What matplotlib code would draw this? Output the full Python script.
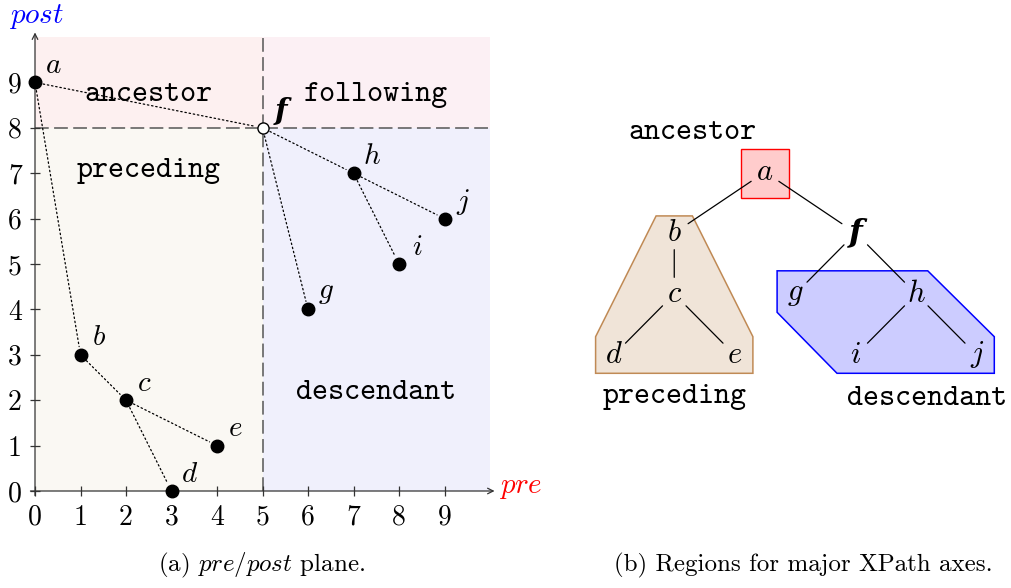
import matplotlib.pyplot as plt
from matplotlib.patches import Rectangle, Polygon

plt.rcParams['mathtext.fontset'] = 'cm'
plt.rcParams['font.family'] = 'cmr10'
plt.rcParams['axes.formatter.use_mathtext'] = True

# Nodos del documento: pre/post y padre
nodes = ['a', 'b', 'c', 'd', 'e', 'f', 'g', 'h', 'i', 'j']
pre = [0, 1, 2, 3, 4, 5, 6, 7, 8, 9]
post = [9, 3, 2, 0, 1, 8, 4, 7, 5, 6]
parent = [None, 'a', 'b', 'c', 'c', 'a', 'f', 'f', 'h', 'h']
context = 'f'

# Disposicion del arbol (posicion horizontal, profundidad)
tree_x = [0, -1.5, -1.5, -2.5, -0.5, 1.5, 0.5, 2.5, 1.5, 3.5]
tree_depth = [0, 1, 2, 3, 3, 1, 2, 2, 3, 3]

preceding_nodes = ['b', 'c', 'd', 'e']
descendant_nodes = ['g', 'h', 'i', 'j']

ticks = list(range(10))

idx = {n: k for k, n in enumerate(nodes)}
cx, cy = pre[idx[context]], post[idx[context]]

fig = plt.figure(figsize=(10.11, 5.88), dpi=100)

# ---------------- (a) plano pre/post ----------------
ax = fig.add_axes([35 / 1011, 97 / 588, 455 / 1011, 454 / 588])
ax.set_xlim(0, 10)
ax.set_ylim(0, 10)
for s in ax.spines.values():
    s.set_visible(False)

# regiones
ax.add_patch(Rectangle((0, cy), cx, 10 - cy, color='#fdf0f0', lw=0, zorder=0))
ax.add_patch(Rectangle((cx, cy), 10 - cx, 10 - cy, color='#fcf0f4', lw=0, zorder=0))
ax.add_patch(Rectangle((0, 0), cx, cy, color='#faf8f3', lw=0, zorder=0))
ax.add_patch(Rectangle((cx, 0), 10 - cx, cy, color='#f0f0fc', lw=0, zorder=0))

ax.plot([cx, cx], [0, 10], color='#555555', lw=1.1, dashes=(9, 3.5), zorder=1)
ax.plot([0, 10], [cy, cy], color='#555555', lw=1.1, dashes=(9, 3.5), zorder=1)

# ejes con flechas
ax.annotate('', xy=(10.1, 0), xytext=(-0.1, 0), annotation_clip=False,
            arrowprops=dict(arrowstyle='->', lw=0.9, color='#333333', shrinkA=0, shrinkB=0))
ax.annotate('', xy=(0, 10.1), xytext=(0, -0.1), annotation_clip=False,
            arrowprops=dict(arrowstyle='->', lw=0.9, color='#333333', shrinkA=0, shrinkB=0))

ax.set_xticks(ticks)
ax.set_yticks(ticks)
ax.set_xticklabels([str(t) for t in ticks])
ax.set_yticklabels([str(t) for t in ticks])
ax.tick_params(direction='inout', length=7, width=0.9, color='#333333', labelsize=20, pad=6)

ax.text(-0.58, 10.45, '$post$', color='blue', fontsize=21, ha='left', va='center', clip_on=False)
ax.text(10.2, 0.08, '$pre$', color='red', fontsize=21, ha='left', va='center', clip_on=False)

# aristas punteadas
for n, p in zip(nodes, parent):
    if p is None:
        continue
    ax.annotate('', xy=(pre[idx[n]], post[idx[n]]), xytext=(pre[idx[p]], post[idx[p]]),
                arrowprops=dict(arrowstyle='-', ls=(0, (1.2, 2.2)), lw=0.9, color='black',
                                shrinkA=6, shrinkB=6), zorder=2)

for n in nodes:
    x, y = pre[idx[n]], post[idx[n]]
    if n == context:
        ax.plot(x, y, 'o', ms=8, mfc='white', mec='black', mew=1.0, zorder=4, clip_on=False)
        ax.annotate(n, (x, y), xytext=(13, 12), textcoords='offset points', fontsize=21,
                    family='DejaVu Serif', style='italic', weight='bold',
                    ha='center', va='center')
    else:
        ax.plot(x, y, 'o', ms=9, color='black', zorder=4, clip_on=False)
        ax.annotate('$' + n + '$', (x, y), xytext=(13, 12), textcoords='offset points',
                    fontsize=21, ha='center', va='center')

ax.text(cx / 2, 8.6, 'ancestor', family='cmtt10', fontsize=22, ha='center', va='baseline')
ax.text((cx + 10) / 2, 8.6, 'following', family='cmtt10', fontsize=22, ha='center', va='baseline')
ax.text(cx / 2, 6.92, 'preceding', family='cmtt10', fontsize=22, ha='center', va='baseline')
ax.text((cx + 10) / 2, 2.03, 'descendant', family='cmtt10', fontsize=22, ha='center', va='baseline')

fig.text(262 / 1011, 1 - 565 / 588, '(a) $pre/post$ plane.', fontsize=18, ha='center', va='center')

# ---------------- (b) arbol ----------------
ax2 = fig.add_axes([560 / 1011, 0, 451 / 1011, 1])
ax2.set_xlim((560 - 765) / 60.5, (1011 - 765) / 60.5)
ax2.set_ylim((588 - 172) / 61, -172 / 61)
ax2.axis('off')

tx = {n: tree_x[k] for k, n in enumerate(nodes)}
td = {n: tree_depth[k] for k, n in enumerate(nodes)}

# caja del ancestro
ax2.add_patch(Rectangle((tx['a'] - 0.4, td['a'] - 0.38), 0.8, 0.8,
                        facecolor='#ffcccc', edgecolor='red', lw=1.0, zorder=1))

# region preceding
b, d, e = preceding_nodes[0], preceding_nodes[2], preceding_nodes[3]
poly_p = [(tx[b] - 0.3, td[b] - 0.28), (tx[b] + 0.3, td[b] - 0.28),
          (tx[e] + 0.3, td[e] - 0.3), (tx[e] + 0.3, td[e] + 0.3),
          (tx[d] - 0.3, td[d] + 0.3), (tx[d] - 0.3, td[d] - 0.3)]
ax2.add_patch(Polygon(poly_p, closed=True, facecolor='#f0e4d8', edgecolor='#c08a55', lw=1.1, zorder=1))

# region descendant
g, h, i, j = descendant_nodes
poly_d = [(tx[g] - 0.3, td[g] - 0.38), (tx[h] + 0.19, td[h] - 0.38),
          (tx[j] + 0.29, td[j] - 0.3), (tx[j] + 0.29, td[j] + 0.3),
          (tx[i] - 0.31, td[i] + 0.3), (tx[g] - 0.3, td[g] + 0.3)]
ax2.add_patch(Polygon(poly_d, closed=True, facecolor='#ccccff', edgecolor='blue', lw=1.1, zorder=1))

for n, p in zip(nodes, parent):
    if p is None:
        continue
    ax2.annotate('', xy=(tx[n], td[n]), xytext=(tx[p], td[p]),
                 arrowprops=dict(arrowstyle='-', lw=0.9, color='black', shrinkA=12, shrinkB=12),
                 zorder=2)

for n in nodes:
    if n == context:
        ax2.text(tx[n], td[n], n, fontsize=23, family='DejaVu Serif', style='italic',
                 weight='bold', ha='center', va='center', zorder=3)
    else:
        ax2.text(tx[n], td[n], '$' + n + '$', fontsize=22, ha='center', va='center', zorder=3)

ax2.text(-1.2, -0.54, 'ancestor', family='cmtt10', fontsize=22, ha='center', va='baseline')
ax2.text(tx[b], 3.79, 'preceding', family='cmtt10', fontsize=22, ha='center', va='baseline')
ax2.text(2.68, 3.82, 'descendant', family='cmtt10', fontsize=22, ha='center', va='baseline')

fig.text(803 / 1011, 1 - 565 / 588, '(b) Regions for major XPath axes.', fontsize=18,
         ha='center', va='center')

fig.savefig('out.png', dpi=100)
